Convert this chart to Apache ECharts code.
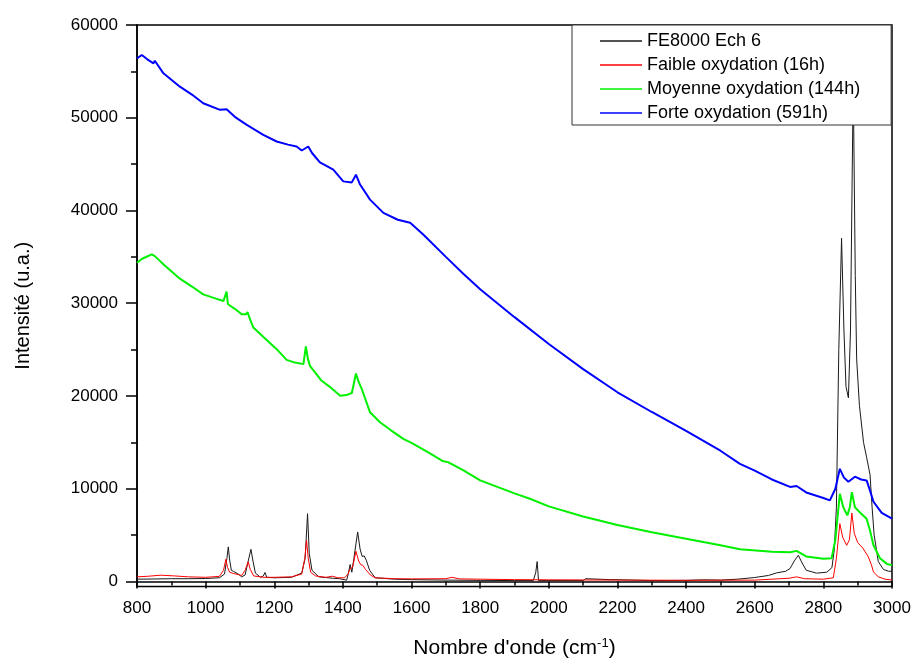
<!DOCTYPE html>
<html>
<head>
<meta charset="utf-8">
<script src="https://cdn.jsdelivr.net/npm/echarts@6/dist/echarts.min.js"></script>
<style>html,body{margin:0;padding:0;background:#fff}#c{width:914px;height:664px}</style>
</head>
<body>
<div id="c"></div>
<script>
var seriesNames = ['FE8000 Ech 6', 'Faible oxydation (16h)', 'Moyenne oxydation (144h)', 'Forte oxydation (591h)'];
var seriesColors = ['#1a1a1a', '#ff0000', '#00f000', '#0000ff'];
var yTickValues = [0, 10000, 20000, 30000, 40000, 50000, 60000];
var yMinorTickValues = [5000, 15000, 25000, 35000, 45000, 55000];

var fe8000 = [[800,250],[850,270],[900,300],[950,300],[1000,320],[1040,400],[1055,800],[1062,2500],[1066,3730],[1070,2300],[1075,1200],[1081,1100],[1095,800],[1105,500],[1115,700],[1124,2200],[1132,3470],[1138,2200],[1145,900],[1160,450],[1168,600],[1173,970],[1178,450],[1200,400],[1250,450],[1280,900],[1290,2500],[1297,7310],[1302,3000],[1310,1200],[1330,500],[1370,350],[1390,300],[1411,140],[1416,900],[1421,1830],[1426,1000],[1432,2500],[1443,5340],[1450,3500],[1456,2700],[1462,2760],[1468,2300],[1478,1200],[1494,400],[1550,250],[1600,200],[1700,150],[1800,120],[1900,100],[1955,100],[1962,1000],[1966,2150],[1970,100],[2000,100],[2100,100],[2107,300],[2112,100],[2180,200],[2190,200],[2300,100],[2400,120],[2450,180],[2500,150],[2550,250],[2600,430],[2640,650],[2664,930],[2690,1100],[2703,1400],[2715,2200],[2727,2830],[2738,2000],[2750,1215],[2780,900],[2810,1000],[2825,1500],[2832,3500],[2838,8000],[2845,25000],[2853,37000],[2860,27000],[2866,21000],[2873,19800],[2879,27000],[2887,54000],[2893,33000],[2897,24000],[2905,19000],[2917,15000],[2926,13400],[2936,11500],[2942,8000],[2948,5000],[2960,2150],[2975,1300],[2990,1100],[3000,1100]];

var faible = [[800,500],[830,560],[870,680],[910,600],[950,500],[1000,450],[1040,550],[1052,1200],[1059,2400],[1064,1500],[1070,1000],[1081,860],[1095,750],[1105,650],[1115,1200],[1124,2120],[1130,1300],[1140,600],[1170,450],[1200,450],[1250,500],[1280,800],[1289,2500],[1294,4440],[1299,2500],[1306,1000],[1320,600],[1350,450],[1370,570],[1385,400],[1405,400],[1415,800],[1421,1400],[1428,1500],[1438,3260],[1446,2200],[1452,1800],[1458,1750],[1466,1300],[1480,700],[1494,400],[1550,300],[1600,280],[1700,300],[1717,450],[1740,280],[1800,250],[1900,200],[2000,180],[2200,150],[2400,130],[2600,150],[2700,350],[2722,500],[2745,300],[2800,250],[2829,400],[2838,2500],[2848,6235],[2856,4800],[2868,3900],[2876,4500],[2883,7385],[2890,5200],[2900,4200],[2915,3600],[2931,2650],[2940,1800],[2946,1040],[2960,500],[2980,250],[3000,150]];

var moyenne = [[800,34370],[815,34800],[843,35260],[852,35080],[880,34100],[925,32650],[960,31800],[993,30960],[1030,30500],[1052,30240],[1061,31250],[1065,29890],[1085,29400],[1105,28810],[1118,28810],[1122,29060],[1130,28200],[1139,27380],[1170,26300],[1207,25050],[1236,23900],[1260,23600],[1285,23435],[1292,25340],[1298,24000],[1304,23250],[1320,22500],[1338,21640],[1365,20900],[1392,20030],[1410,20100],[1426,20320],[1438,22430],[1445,21600],[1455,20750],[1479,18240],[1508,17170],[1540,16300],[1576,15370],[1600,14940],[1650,13900],[1690,13000],[1706,12870],[1720,12600],[1750,12000],[1800,10900],[1850,10200],[1900,9500],[1945,8920],[2000,8100],[2100,7000],[2200,6100],[2300,5300],[2400,4600],[2500,3900],[2557,3470],[2650,3200],[2703,3150],[2722,3300],[2750,2700],[2800,2450],[2824,2500],[2835,4500],[2848,9460],[2858,8000],[2870,7130],[2877,8000],[2883,9640],[2892,8000],[2905,7500],[2926,6770],[2936,5500],[2946,3900],[2965,2500],[2985,1900],[3000,1750]];

var forte = [[800,56400],[814,56760],[830,56300],[848,55860],[852,56150],[877,54790],[925,53350],[960,52500],[993,51560],[1042,50850],[1061,50920],[1085,50100],[1120,49235],[1168,48160],[1207,47440],[1240,47100],[1265,46900],[1280,46470],[1299,46900],[1310,46200],[1333,45180],[1372,44400],[1401,43140],[1426,43030],[1438,43860],[1450,42800],[1479,41170],[1518,39740],[1560,39000],[1596,38670],[1634,37410],[1700,35000],[1750,33200],[1800,31500],[1900,28500],[2000,25600],[2100,22900],[2200,20400],[2300,18275],[2400,16230],[2500,14100],[2557,12685],[2600,11950],[2650,11000],[2703,10200],[2722,10300],[2750,9600],[2800,9000],[2819,8740],[2835,10000],[2848,12150],[2860,11200],[2873,10750],[2892,11300],[2910,11000],[2926,10900],[2936,9800],[2946,8600],[2970,7400],[3000,6770]];

var allData = [fe8000, faible, moyenne, forte];
var widths = [1, 1, 2, 2];

var FONT = '"Liberation Sans", Arial, sans-serif';
var plain = function (v) { return String(v); };
var chart = echarts.init(document.getElementById('c'), null, {renderer: 'canvas'});
var option = {
  backgroundColor: '#ffffff',
  animation: false,
  grid: {left: 137, right: 22, top: 25, bottom: 75, show: true, borderColor: '#000', borderWidth: 1.5, backgroundColor: 'transparent'},
  legend: {
    data: seriesNames.map(function (n, i) { return {name: n, icon: 'rect', itemStyle: {color: seriesColors[i]}}; }),
    orient: 'vertical',
    left: 572, top: 25,
    padding: [7, 31, 3, 28],
    itemGap: 6,
    itemWidth: 42, itemHeight: 1.5,
    itemTextGap: 7,
    backgroundColor: '#ffffff',
    borderColor: '#333',
    borderWidth: 1,
    borderRadius: 0,
    textStyle: {fontFamily: FONT, fontSize: 18, color: '#000', lineHeight: 18}
  },
  xAxis: {
    type: 'value', min: 800, max: 3000, interval: 200,
    name: '{a|Nombre d\'onde (cm}{s|-1}{a|)}',
    nameLocation: 'middle', nameGap: 50,
    nameTextStyle: {
      fontFamily: FONT, color: '#000',
      rich: {a: {fontFamily: FONT, fontSize: 21, color: '#000', lineHeight: 24}, s: {fontFamily: FONT, fontSize: 13, color: '#000', verticalAlign: 'top', lineHeight: 14}}
    },
    axisLine: {show: true, lineStyle: {color: '#000', width: 1.5}},
    axisTick: {show: true, inside: false, length: 7, lineStyle: {color: '#000', width: 1.5}},
    minorTick: {show: true, splitNumber: 2, length: 4, lineStyle: {color: '#000', width: 1.5}},
    axisLabel: {fontFamily: FONT, fontSize: 17, color: '#000', margin: 13, formatter: plain},
    splitLine: {show: false}
  },
  yAxis: [{
    type: 'value', min: -540, max: 60000,
    name: 'Intensité (u.a.)', nameLocation: 'middle', nameGap: 104,
    nameTextStyle: {fontFamily: FONT, fontSize: 20, color: '#000'},
    axisLine: {show: true, lineStyle: {color: '#000', width: 1.5}},
    axisTick: {show: true, inside: false, length: 11, customValues: yTickValues, lineStyle: {color: '#000', width: 1.5}},
    axisLabel: {fontFamily: FONT, fontSize: 17, color: '#000', margin: 19, customValues: yTickValues, formatter: plain},
    splitLine: {show: false}
  }, {
    type: 'value', min: -540, max: 60000, position: 'left',
    axisLine: {show: false},
    axisTick: {show: true, inside: false, length: 6, customValues: yMinorTickValues, lineStyle: {color: '#000', width: 1.5}},
    axisLabel: {show: false, customValues: yMinorTickValues},
    splitLine: {show: false}
  }],
  series: seriesNames.map(function (n, i) {
    return {
      name: n, type: 'line', data: allData[i], yAxisIndex: 0,
      symbol: 'none', showSymbol: false, smooth: false,
      lineStyle: {color: seriesColors[i], width: widths[i]},
      itemStyle: {color: seriesColors[i]},
      clip: true, z: 2 + i
    };
  })
};
chart.setOption(option);
</script>
</body>
</html>
